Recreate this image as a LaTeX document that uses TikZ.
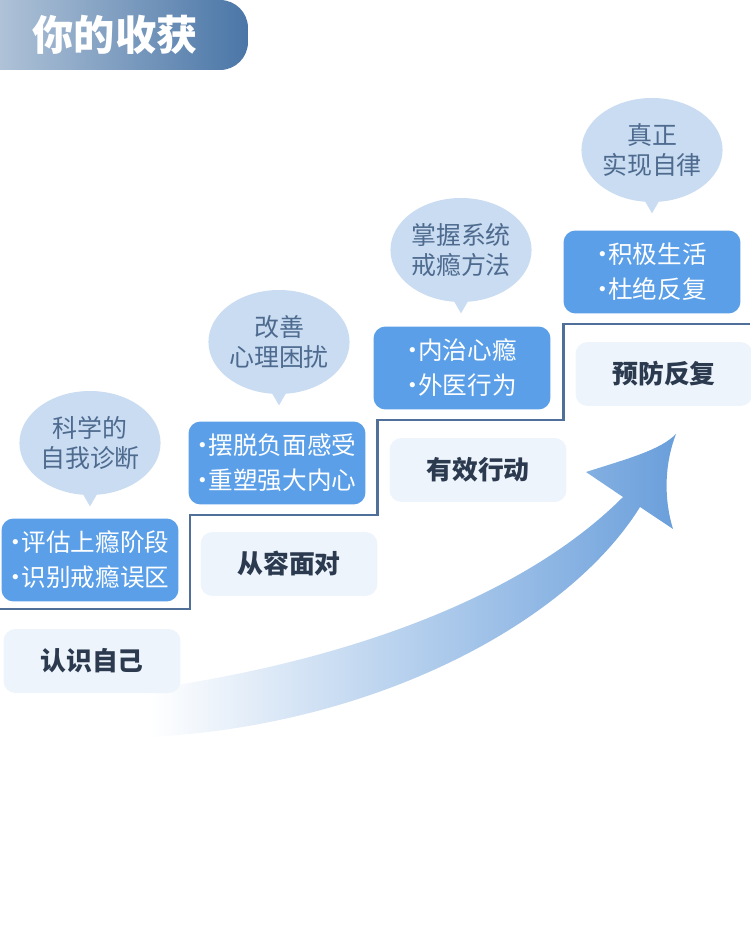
\documentclass[tikz,border=0pt]{standalone}
\usepackage{fontspec}
\newfontfamily\cjk{Noto Sans CJK SC}
\usetikzlibrary{positioning,calc,shapes.geometric}
\definecolor{stepblue}{HTML}{5A9FE8}
\definecolor{steppale}{HTML}{EDF4FC}
\definecolor{bubblefill}{HTML}{C9DCF1}
\definecolor{bubbletext}{HTML}{4E6B8F}
\definecolor{labeltext}{HTML}{2C3A4F}
\definecolor{stairline}{HTML}{50709A}
\definecolor{arrowblue}{HTML}{6A9FDB}
\definecolor{titleleft}{HTML}{BFCEDF}
\definecolor{titleright}{HTML}{4A76A7}
\newcommand{\itemdot}{\makebox[0.45em][c]{·}}
\tikzset{px/.style={x=0.02cm, y=-0.02cm}}
\tikzset{gainbox/.style={rounded corners=0.24cm, fill=stepblue, text=white, minimum width=3.54cm, minimum height=1.66cm, inner sep=0pt, align=center, font=\cjk\fontsize{14}{20}\selectfont}}
\tikzset{stagebox/.style={rounded corners=0.24cm, fill=steppale, text=labeltext, minimum width=3.54cm, minimum height=1.28cm, inner sep=0pt, font=\cjk\bfseries\fontsize{14.7}{17}\selectfont}}
\tikzset{bubble/.style={ellipse, fill=bubblefill, text=bubbletext, minimum width=2.76cm, minimum height=2.08cm, inner sep=0pt, align=center, font=\cjk\fontsize{14.2}{17.5}\selectfont}}
\tikzset{stair/.style={draw=stairline, line width=1.7pt}}
\tikzset{titletext/.style={text=white, font=\cjk\bfseries\fontsize{23.5}{26}\selectfont}}

\begin{document}
\begin{tikzpicture}[px]
	\useasboundingbox (0,0) rectangle (750,925);
	% banner
	\shade[left color=titleleft, right color=titleright, rounded corners=0.56cm] (-40,0) rectangle (248,70);
	\node[titletext] (title) at (115,35) {你的收获};
	% rising arrow
	\shade[left color=white, right color=arrowblue] (150,689) .. controls (340,662) and (520,600) .. (623,497)
		-- (586,472) .. controls (630,458) and (660,450) .. (676,434)
		.. controls (664,465) and (664,500) .. (673,529)
		-- (640,507) .. controls (570,620) and (380,725) .. (150,737) -- cycle;
	% stairs
	\draw[stair] (0,609) -- (190,609) -- (190,515) -- (377,515) -- (377,420) -- (563,420) -- (563,324) -- (750,324);
%
	\node[gainbox] (g1) at (90,560) {\itemdot 评估上瘾阶段\\\itemdot 识别戒瘾误区};
	\node[gainbox] (g2) at (277,463) {\itemdot 摆脱负面感受\\\itemdot 重塑强大内心};
	\node[gainbox] (g3) at (462,368) {\itemdot 内治心瘾\\\itemdot 外医行为};
	\node[gainbox] (g4) at (652,272) {\itemdot 积极生活\\\itemdot 杜绝反复};
%
	\node[stagebox] (s1) at (92,661) {认识自己};
	\node[stagebox] (s2) at (289,564) {从容面对};
	\node[stagebox] (s3) at (478,470) {有效行动};
	\node[stagebox] (s4) at (664,374) {预防反复};
%
	\node[bubble] (b1) at (90,443) {科学的\\自我诊断};
	\node[bubble] (b2) at (279,342) {改善\\心理困扰};
	\node[bubble] (b3) at (461,250) {掌握系统\\戒瘾方法};
	\node[bubble] (b4) at (652,150) {真正\\实现自律};
	\fill[bubblefill] ($(b1.south)+(-11,-8)$) -- ($(b1.south)+(11,-8)$) -- ($(b1.south)+(0,11)$) -- cycle;
	\fill[bubblefill] ($(b2.south)+(-11,-8)$) -- ($(b2.south)+(11,-8)$) -- ($(b2.south)+(0,11)$) -- cycle;
	\fill[bubblefill] ($(b3.south)+(-11,-8)$) -- ($(b3.south)+(11,-8)$) -- ($(b3.south)+(0,11)$) -- cycle;
	\fill[bubblefill] ($(b4.south)+(-11,-8)$) -- ($(b4.south)+(11,-8)$) -- ($(b4.south)+(0,11)$) -- cycle;
\end{tikzpicture}
\end{document}
